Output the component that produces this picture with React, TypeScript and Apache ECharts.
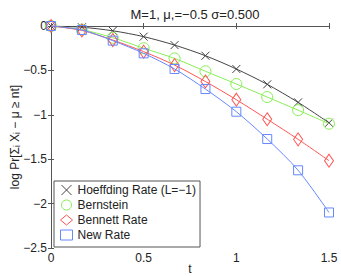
import React, { useEffect, useRef } from "react";
import * as echarts from "echarts";

const tValues = [0, 0.1667, 0.3333, 0.5, 0.6667, 0.8333, 1, 1.1667, 1.3333, 1.5];
const hoeffding = [0, -0.014, -0.054, -0.12, -0.215, -0.335, -0.484, -0.657, -0.86, -1.09];
const bernstein = [0, -0.041, -0.132, -0.25, -0.365, -0.51, -0.653, -0.8, -0.948, -1.1];
const bennett = [0, -0.05, -0.158, -0.289, -0.44, -0.625, -0.83, -1.05, -1.276, -1.517];
const newRate = [0, -0.045, -0.165, -0.308, -0.484, -0.71, -0.965, -1.273, -1.625, -2.1];
const seriesNames = ["Hoeffding Rate (L=\u22121)", "Bernstein", "Bennett Rate", "New Rate"];
const xTicks = [0, 0.5, 1, 1.5];
const yTicks = [0, -0.5, -1, -1.5, -2, -2.5];

const FONT = "Liberation Sans, Arial, sans-serif";
const fmt = (v: number) => (v < 0 ? "\u2212" + String(Math.abs(v)) : String(v));

export default function App() {
  const ref = useRef<HTMLDivElement>(null);
  useEffect(() => {
    if (!ref.current) return;
    document.body.style.margin = "0";
    const chart = echarts.init(ref.current, null, { renderer: "svg" });
    const colors = ["#444444", "#88ee55", "#ff5555", "#6688ff"];
    const symbols = ["path://M0,0L10,10M10,0L0,10", "circle", "diamond", "rect"];
    const sizes: any[] = [8, 11, [9, 13], 9];
    const datas = [hoeffding, bernstein, bennett, newRate];
    const axisLine = { show: true, lineStyle: { color: "#555", width: 1 } };
    const tick = { show: true, inside: true, length: 3, lineStyle: { color: "#555" } };
    const label = { color: "#222", fontSize: 12, fontFamily: FONT, formatter: fmt };
    chart.setOption({
      animation: false,
      backgroundColor: "#fff",
      title: {
        text: "M=1, \u03bc,=\u22120.5 \u03c3=0.500",
        left: 190,
        textAlign: "center",
        top: 3,
        textStyle: { fontSize: 13, fontWeight: "normal", color: "#222", fontFamily: FONT },
      },
      grid: { left: 51, right: 12, top: 26, bottom: 28, containLabel: false, outerBoundsMode: "none" },
      xAxis: [
        {
          type: "value", min: xTicks[0], max: xTicks[xTicks.length - 1], interval: 0.5,
          axisLine, axisTick: tick, splitLine: { show: false },
          axisLabel: { ...label, margin: 4 },
          name: "t", nameLocation: "middle", nameGap: 15, nameMoveOverlap: false,
          nameTextStyle: { color: "#222", fontSize: 12, fontFamily: FONT },
        },
        {
          type: "value", position: "top", min: 0, max: 1.5, interval: 0.5,
          axisLine, axisTick: tick, axisLabel: { show: false }, splitLine: { show: false },
        },
      ],
      yAxis: [
        {
          type: "value", min: yTicks[yTicks.length - 1], max: yTicks[0], interval: 0.5,
          axisLine, axisTick: tick, splitLine: { show: false },
          axisLabel: { ...label, margin: 4 },
          name: "log Pr[\u03a3\u1d62 X\u1d62 \u2212 \u03bc \u2265 nt]", nameLocation: "middle", nameGap: 30, nameMoveOverlap: false,
          nameTextStyle: { color: "#222", fontSize: 12, fontFamily: FONT },
        },
        {
          type: "value", position: "right", min: -2.5, max: 0, interval: 0.5,
          axisLine, axisTick: tick, axisLabel: { show: false }, splitLine: { show: false },
        },
      ],
      legend: {
        orient: "vertical",
        left: 54,
        top: 181,
        padding: [3, 4, 6, 6],
        itemGap: 3,
        itemWidth: 12,
        itemHeight: 10,
        backgroundColor: "#fff",
        borderColor: "#555",
        borderWidth: 1,
        borderRadius: 0,
        textStyle: { color: "#222", fontSize: 12, fontFamily: FONT },
        data: seriesNames.map((n, i) => ({
          name: n,
          icon: symbols[i],
          itemStyle: { color: "transparent", borderColor: colors[i], borderWidth: 1 },
        })),
      },
      series: seriesNames.map((n, i) => ({
        name: n,
        type: "line",
        smooth: 0.3,
        data: tValues.map((t, j) => [t, datas[i][j]]),
        symbol: symbols[i],
        symbolSize: sizes[i],
        showAllSymbol: true,
        lineStyle: { color: colors[i], width: 1 },
        itemStyle: { color: "transparent", borderColor: colors[i], borderWidth: 1 },
        emphasis: { disabled: true },
        z: 2 + i,
      })),
    });
    return () => chart.dispose();
  }, []);
  return <div ref={ref} style={{ position: "absolute", left: 0, top: 0, width: 341, height: 276 }} />;
}
